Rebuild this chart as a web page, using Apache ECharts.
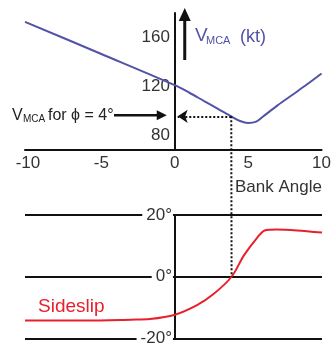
<!DOCTYPE html>
<html><head><meta charset="utf-8">
<script src="https://cdn.jsdelivr.net/npm/echarts@6/dist/echarts.min.js"></script>
<style>html,body{margin:0;padding:0;background:#fff}#c{width:334px;height:347px}</style>
</head><body><div id="c"></div>
<script>
// ---- data ----
const xTicks = [-10, -5, 0, 5, 10];
const vTicks = [80, 120, 160];
const sideTicks = [-20, 0, 20];
const bankAngles = [-10.2, -5, 0, 1, 2, 3, 3.85, 4.45, 5, 5.55, 6, 7, 8, 9, 10];
const vmca =       [172.8, 146.5, 121, 114.8, 108, 101.3, 95.5, 91.7, 90.1, 91.2, 95.2, 104.5, 113, 121.5, 130.5];
const sideAngles = [-10.2, -6, -3, -1.7, 0, 1.5, 2.6, 3.85, 4.7, 5.6, 6.1, 6.9, 8.3, 10];
const sideslip =   [-14.2, -14.2, -13.9, -13.7, -12.3, -9.2, -5.7, 0, 7.0, 12.7, 15.0, 15.3, 15.0, 14.3];
const phiMark = 3.85;      // bank angle of the annotation
const vmcaAtPhi = 95.5;    // V_MCA read at that bank angle

const X_MIN = -10.2, X_MAX = 10;
const GL = 25, GR = 12, W = 334;
const gridW = W - GL - GR;
// shift the y axes (with their labels) onto bank angle 0
const yOffset = -((0 - X_MIN) / (X_MAX - X_MIN)) * gridW;

const FF = '"Liberation Sans", Arial, sans-serif';
const chart = echarts.init(document.getElementById('c'), null, {renderer: 'canvas'});
const blue = '#5252a8', red = '#e8202c', ink = '#111';

const option = {
  animation: false,
  textStyle: {fontFamily: FF},
  grid: [
    {left: GL, right: GR, top: 13, height: 137},
    {left: GL, right: GR, top: 215, height: 128}
  ],
  xAxis: [
    {gridIndex: 0, type: 'value', min: X_MIN, max: X_MAX,
     axisLine: {onZero: false, lineStyle: {color: ink, width: 2}},
     axisTick: {show: false}, splitLine: {show: false},
     axisLabel: {customValues: xTicks, fontSize: 17, color: '#333', margin: 5, fontFamily: FF}},
    {gridIndex: 1, type: 'value', min: X_MIN, max: X_MAX,
     axisLine: {show: false}, axisTick: {show: false}, axisLabel: {show: false}, splitLine: {show: false}}
  ],
  yAxis: [
    {gridIndex: 0, type: 'value', min: 68, max: 180, position: 'left', offset: yOffset,
     axisLine: {onZero: false, lineStyle: {color: ink, width: 2}},
     axisTick: {show: false}, splitLine: {show: false},
     axisLabel: {customValues: vTicks, fontSize: 17, color: '#333', margin: 5, fontFamily: FF}},
    {gridIndex: 1, type: 'value', min: -20, max: 20, interval: 20, position: 'left', offset: yOffset,
     axisLine: {onZero: false, lineStyle: {color: ink, width: 2}},
     axisTick: {show: false},
     splitLine: {show: true, lineStyle: {color: ink, width: 2}},
     axisLabel: {customValues: sideTicks, formatter: '{value}°', fontSize: 17, color: '#333', margin: 2,
                 backgroundColor: '#fff', padding: [0, 1, 0, 4], fontFamily: FF}}
  ],
  series: [
    {type: 'line', xAxisIndex: 0, yAxisIndex: 0, showSymbol: false, smooth: 0.3,
     data: bankAngles.map((x, i) => [x, vmca[i]]),
     lineStyle: {color: blue, width: 2}, z: 3,
     markLine: {silent: true, symbol: ['none', 'arrow'], symbolSize: [10, 10], label: {show: false},
       lineStyle: {color: ink, width: 2, type: [2, 2]},
       data: [[{coord: [phiMark, vmcaAtPhi]}, {coord: [0.2, vmcaAtPhi]}]]}},
    {type: 'line', xAxisIndex: 1, yAxisIndex: 1, showSymbol: false, smooth: 0.3,
     data: sideAngles.map((x, i) => [x, sideslip[i]]),
     lineStyle: {color: red, width: 2}, z: 3}
  ]
};
chart.setOption(option);

const pTop = chart.convertToPixel({gridIndex: 0}, [phiMark, vmcaAtPhi]);
const pBot = chart.convertToPixel({gridIndex: 1}, [phiMark, 0]);
const pAx = chart.convertToPixel({gridIndex: 0}, [0, vmcaAtPhi]);
const ax0 = pAx[0];
const yv = pAx[1] - 1;

function txt(text, x, y, size, fill, align) {
  return {type: 'text', silent: true, z: 10,
    style: {text: text, x: x, y: y, font: 'normal ' + size + 'px ' + FF, fill: fill,
            align: align || 'left', verticalAlign: 'middle', textAlign: align || 'left', textVerticalAlign: 'middle'}};
}

chart.setOption({
  graphic: [
    {type: 'line', silent: true, z: 5,
     shape: {x1: pTop[0], y1: pTop[1], x2: pBot[0], y2: pBot[1]},
     style: {stroke: ink, lineWidth: 2, lineDash: [2, 2]}},
    // left annotation
    txt('V', 12, yv, 16, '#222'),
    txt('MCA', 23, yv + 4, 10, '#222'),
    txt('for ϕ = 4°', 48, yv, 16, '#222'),
    {type: 'line', silent: true, z: 5, shape: {x1: 114, y1: yv, x2: ax0 - 16, y2: yv},
     style: {stroke: ink, lineWidth: 2.5}},
    {type: 'polygon', silent: true, z: 5,
     shape: {points: [[ax0 - 8, yv], [ax0 - 18, yv - 5], [ax0 - 18, yv + 5]]}, style: {fill: ink}},
    // V_MCA axis title with arrow
    {type: 'line', silent: true, z: 5, shape: {x1: ax0 + 10, y1: 60, x2: ax0 + 10, y2: 18},
     style: {stroke: ink, lineWidth: 3}},
    {type: 'polygon', silent: true, z: 5,
     shape: {points: [[ax0 + 10, 8], [ax0 + 4, 21], [ax0 + 16, 21]]}, style: {fill: ink}},
    txt('V', 195, 36, 19, blue),
    txt('MCA', 206, 41, 11, blue),
    txt('(kt)', 240, 37, 18, blue),
    txt('Bank Angle', 235, 187, 17, '#333'),
    txt('Sideslip', 38, 307, 19, red)
  ]
});
</script>
</body></html>
